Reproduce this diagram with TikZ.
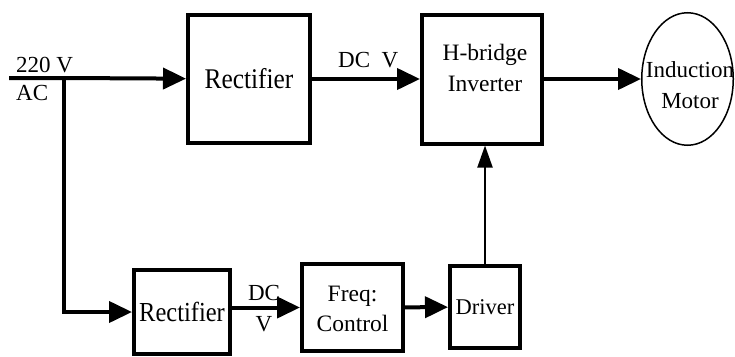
\documentclass[tikz,border=0pt]{standalone}
\usepackage{fontspec}
\setmainfont{Liberation Serif}
\newfontfamily\condfont[FakeStretch=0.89]{Liberation Serif}
\usetikzlibrary{arrows.meta,positioning,calc,shapes.geometric}

\begin{document}
\begin{tikzpicture}[x=1pt,y=-1pt,font=\fontsize{23}{29}\selectfont,
    >={Triangle[length=23pt,width=21pt]},
    bx/.style={draw,line width=4pt,inner sep=0pt},
    txt/.style={inner sep=0pt,align=center},
    motor/.style={draw,ellipse,line width=1.5pt,inner sep=0pt,minimum width=91.5pt,minimum height=132.5pt},
    ln/.style={line width=4pt,->}]
  \useasboundingbox (0,0) rectangle (735,356);
  % top row
  \node[bx,minimum width=122pt,minimum height=128pt,font=\condfont\fontsize{28.5}{30}\selectfont] (rect) at (249,79) {Rectifier};
  \node[bx,minimum width=120pt,minimum height=129pt,right=108pt of rect] (inv) {};
  \node[txt,font=\fontsize{23.5}{31}\selectfont] (invtxt) at ($(inv.center)+(3,-11)$) {H-bridge\\Inverter};
  \node[motor,right=97pt of inv] (mot) {};
  \node[txt,font=\fontsize{23}{31}\selectfont] (mottxt) at ($(mot.center)+(2.5,6)$) {Induction\\Motor};
  % bottom row
  \node[bx,minimum width=96pt,minimum height=84pt,font=\condfont\fontsize{27.5}{30}\selectfont] (rect2) at (182,312) {Rectifier};
  \node[bx,minimum width=101pt,minimum height=87pt] (freq) at (352.5,307.5) {};
  \node[txt,font=\fontsize{23.5}{30}\selectfont] (freqtxt) at ($(freq.center)+(0,1)$) {Freq:\\Control};
  \node[bx,minimum width=70pt,minimum height=82pt] (drv) at (485,307) {};
  \node[txt,font=\fontsize{22.5}{29}\selectfont] (drvtxt) at (drv.center) {Driver};
  % supply
  \coordinate (ac) at (9,78);
  \coordinate (jn) at (64,78);
  \node[txt,anchor=base west] (vin) at (16,72) {220 V};
  \node[txt,anchor=base west] (vac) at (16,100) {AC};
  \node[txt,anchor=base west] (dc1) at (338,67) {DC\enspace V};
  \node[txt,font=\fontsize{23}{31}\selectfont] (dc2) at (264,309) {DC\\V};
  % connectors
  \draw[ln] (ac) -- (jn) -- (rect);
  \draw[ln] (jn) |- (rect2);
  \draw[ln] (rect) -- (inv);
  \draw[ln] (inv) -- (mot);
  \draw[ln] (rect2.east |- freq.west) -- (freq.west);
  \draw[ln] (freq) -- (drv);
  \draw[line width=2pt,->,>={Triangle[length=22pt,width=15pt]}] (drv.north) -- (drv.north |- inv.south);
\end{tikzpicture}
\end{document}
